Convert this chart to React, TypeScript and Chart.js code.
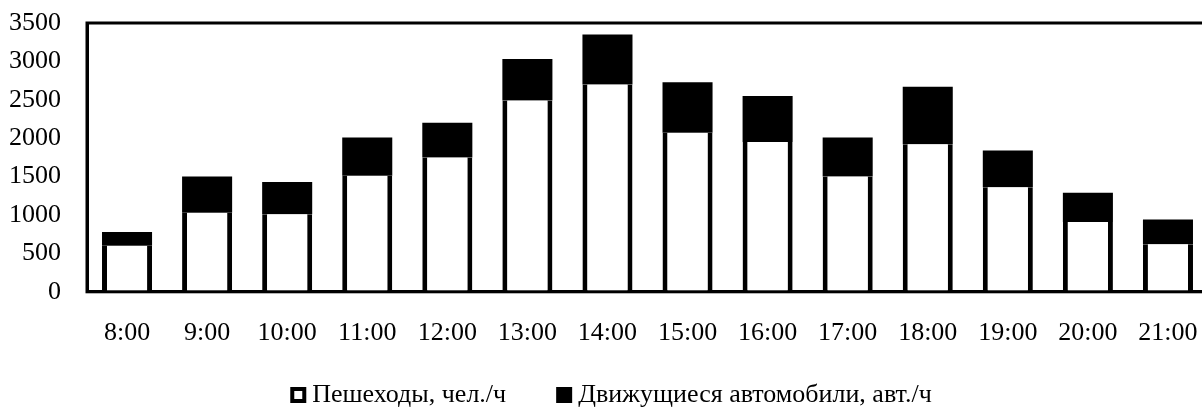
import React, { useEffect, useRef } from "react";
import Chart from "chart.js/auto";

const hours = ["8:00", "9:00", "10:00", "11:00", "12:00", "13:00", "14:00", "15:00", "16:00", "17:00", "18:00", "19:00", "20:00", "21:00"];
const pedestrians = [600, 1030, 1010, 1510, 1750, 2490, 2700, 2070, 1950, 1500, 1920, 1360, 910, 620];
const cars = [180, 470, 420, 500, 450, 540, 650, 660, 600, 510, 750, 480, 380, 320];
const yTicks = [0, 500, 1000, 1500, 2000, 2500, 3000, 3500];
const legendLabels = ["Пешеходы, чел./ч", "Движущиеся автомобили, авт./ч"];

const serif = "'Liberation Serif', 'Times New Roman', serif";

// рамка вокруг области построения
const frame = {
  id: "frame",
  afterDatasetsDraw(chart: Chart) {
    const { ctx, chartArea } = chart;
    ctx.save();
    ctx.strokeStyle = "#000";
    ctx.lineWidth = 3;
    ctx.strokeRect(chartArea.left, chartArea.top, chartArea.right - chartArea.left, chartArea.bottom - chartArea.top);
    ctx.restore();
  },
};

// легенда внизу: квадрат, текст, большой промежуток между пунктами
const bottomLegend = {
  id: "bottomLegend",
  afterDraw(chart: Chart) {
    const { ctx } = chart;
    const box = 16;
    const gap = 6;
    const itemGap = 50;
    ctx.save();
    ctx.font = `26px ${serif}`;
    const widths = legendLabels.map(t => ctx.measureText(t).width);
    const total = widths.reduce((s, w) => s + box + gap + w, 0) + itemGap * (legendLabels.length - 1);
    let x = chart.width / 2 - total / 2;
    const y = chart.height - 14;
    legendLabels.forEach((text, i) => {
      ctx.fillStyle = "#000";
      ctx.fillRect(x, y - box / 2, box, box);
      if (i === 0) {
        ctx.fillStyle = "#fff";
        ctx.fillRect(x + 4, y - box / 2 + 4, box - 8, box - 8);
      }
      ctx.fillStyle = "#000";
      ctx.textBaseline = "middle";
      ctx.textAlign = "left";
      ctx.fillText(text, x + box + gap, y);
      x += box + gap + widths[i] + itemGap;
    });
    ctx.restore();
  },
};

const App: React.FC = () => {
  const chartRef = useRef<HTMLCanvasElement>(null);

  useEffect(() => {
    document.body.style.margin = "0";
    document.body.style.overflow = "hidden";
    if (!chartRef.current) return;

    const myChart = new Chart(chartRef.current, {
      type: "bar",
      data: {
        labels: hours,
        datasets: [
          {
            label: legendLabels[0],
            data: pedestrians,
            backgroundColor: "#fff",
            borderColor: "#000",
            borderWidth: { left: 5, right: 5, top: 0, bottom: 0 },
            borderSkipped: false,
          },
          {
            label: legendLabels[1],
            data: cars,
            backgroundColor: "#000",
            borderWidth: 0,
          },
        ],
      },
      options: {
        animation: false,
        responsive: true,
        maintainAspectRatio: false,
        layout: { padding: { left: 9, right: 14, top: 23, bottom: 42 } },
        datasets: { bar: { categoryPercentage: 1, barPercentage: 0.625 } },
        scales: {
          x: {
            stacked: true,
            grid: { display: false },
            border: { color: "#000", width: 3 },
            ticks: { color: "#000", padding: 18, maxRotation: 0, autoSkip: false, font: { family: serif, size: 26 } },
          },
          y: {
            stacked: true,
            min: 0,
            max: 3500,
            afterBuildTicks: (axis: any) => {
              axis.ticks = yTicks.map(v => ({ value: v }));
            },
            grid: { display: false, tickLength: 26 },
            border: { color: "#000", width: 3 },
            ticks: {
              color: "#000",
              padding: 0,
              autoSkip: false,
              font: { family: serif, size: 26 },
              callback: (value: any) => String(value),
            },
          },
        },
        plugins: {
          tooltip: { enabled: false },
          legend: { display: false },
        },
      },
      plugins: [frame, bottomLegend],
    });

    return () => {
      myChart.destroy();
    };
  }, []);

  return (
    <div style={{ position: "absolute", left: 0, top: 0, width: 1222, height: 409 }}>
      <canvas ref={chartRef} />
    </div>
  );
};

export default App;
